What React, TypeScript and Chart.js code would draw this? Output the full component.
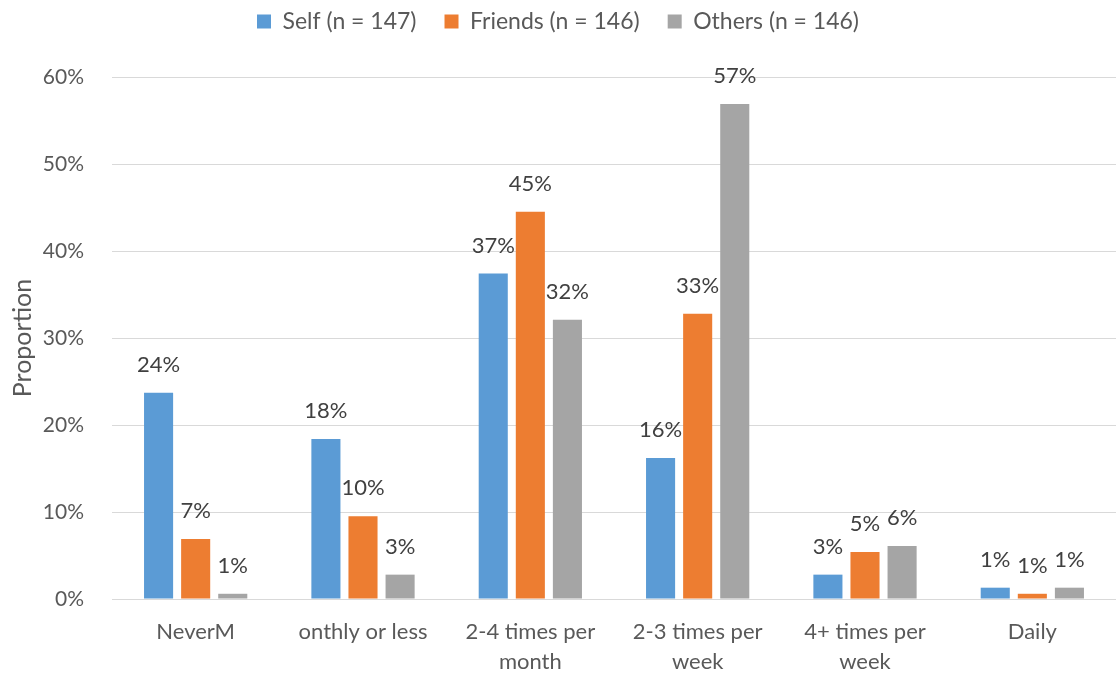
import React, { useEffect, useRef } from "react";
import { Chart, registerables } from "chart.js";

Chart.register(...registerables);

const categories: (string | string[])[] = [
  "NeverM",
  "onthly or less",
  ["2-4 times per", "month"],
  ["2-3 times per", "week"],
  ["4+ times per", "week"],
  "Daily",
];
const selfValues = [23.7, 18.4, 37.4, 16.2, 2.8, 1.3];
const friendsValues = [6.9, 9.5, 44.5, 32.8, 5.4, 0.6];
const othersValues = [0.6, 2.8, 32.1, 56.9, 6.1, 1.3];
const seriesNames = ["Self (n = 147)", "Friends (n = 146)", "Others (n = 146)"];
const yTicks = [0, 10, 20, 30, 40, 50, 60];

const FONT = "Lato, 'Noto Sans', sans-serif";
const TEXT = "#595959";

const dataLabels = {
  id: "dataLabels",
  afterDatasetsDraw(chart: any) {
    const ctx = chart.ctx;
    ctx.save();
    ctx.font = `22px ${FONT}`;
    ctx.fillStyle = "#404040";
    ctx.textAlign = "center";
    ctx.textBaseline = "middle";
    chart.data.datasets.forEach((ds: any, i: number) => {
      const meta = chart.getDatasetMeta(i);
      meta.data.forEach((el: any, j: number) => {
        const v = ds.data[j];
        ctx.fillText(Math.round(v) + "%", el.x, el.y - 28);
      });
    });
    ctx.restore();
  },
};

const legendSpace = {
  id: "legendSpace",
  beforeInit(chart: any) {
    const lg = chart.legend;
    if (!lg) return;
    const orig = lg.fit.bind(lg);
    lg.fit = function () {
      orig();
      this.height = 95;
    };
  },
};

export default function App() {
  const ref = useRef<HTMLCanvasElement>(null);
  useEffect(() => {
    if (!ref.current) return;
    const chart = new Chart(ref.current, {
      type: "bar",
      data: {
        labels: categories,
        datasets: [
          { label: seriesNames[0], data: selfValues, backgroundColor: "#5B9BD5" },
          { label: seriesNames[1], data: friendsValues, backgroundColor: "#ED7D31" },
          { label: seriesNames[2], data: othersValues, backgroundColor: "#A5A5A5" },
        ],
      },
      options: {
        animation: false,
        responsive: true,
        maintainAspectRatio: false,
        layout: { padding: { top: -18, right: 0, left: 0, bottom: 0 } },
        datasets: {
          bar: { categoryPercentage: 0.665, barPercentage: 0.784 },
        },
        plugins: {
          legend: {
            position: "top",
            labels: {
              font: { family: FONT, size: 23 },
              color: TEXT,
              boxWidth: 14,
              boxHeight: 14,
              padding: 28,
            },
          },
          tooltip: { enabled: false },
        },
        scales: {
          x: {
            grid: { display: false },
            border: { display: false },
            ticks: {
              font: { family: FONT, size: 22, lineHeight: 1.36 },
              color: TEXT,
              padding: 10,
              maxRotation: 0,
              autoSkip: false,
            },
            afterFit: (s: any) => {
              s.height = 74;
            },
          },
          y: {
            min: 0,
            max: 60,
            afterBuildTicks: (s: any) => {
              s.ticks = yTicks.map((v) => ({ value: v }));
            },
            grid: { color: "#D9D9D9", lineWidth: 1, drawTicks: false },
            border: { display: false },
            ticks: {
              font: { family: FONT, size: 21 },
              color: TEXT,
              padding: 28,
              callback: (v: any) => v + "%",
            },
            title: {
              display: true,
              text: "Proportion",
              font: { family: FONT, size: 25 },
              color: TEXT,
              padding: { top: 8, bottom: 0 },
            },
            afterFit: (s: any) => {
              s.width = 112;
            },
          },
        },
      },
      plugins: [legendSpace, dataLabels],
    });
    return () => chart.destroy();
  }, []);
  return (
    <div style={{ position: "fixed", left: 0, top: 0, width: 1116, height: 673, background: "#fff" }}>
      <canvas ref={ref} />
    </div>
  );
}
